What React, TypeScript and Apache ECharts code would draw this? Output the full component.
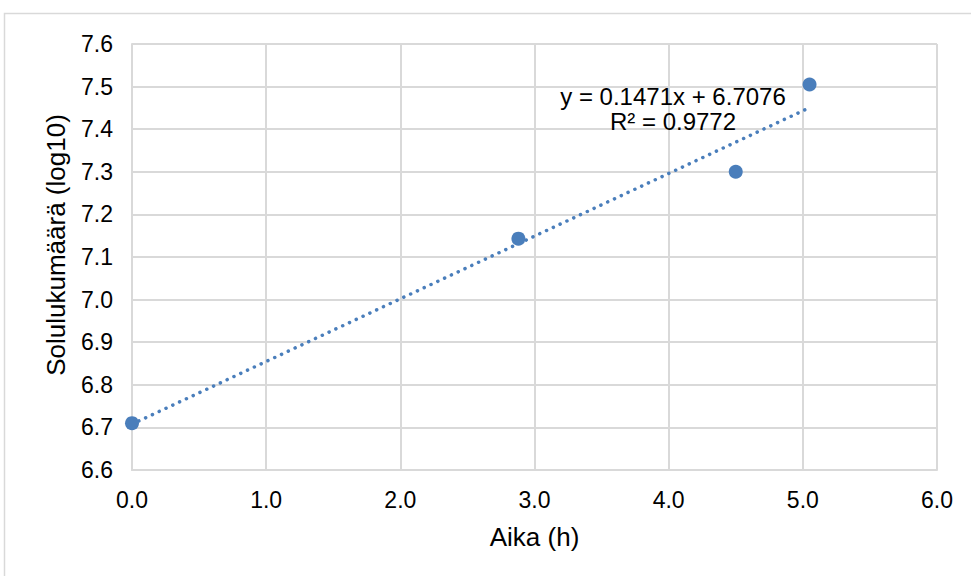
import React, { useEffect, useRef } from "react";
import * as echarts from "echarts";

// Data
const timeHours = [0, 2.88, 4.5, 5.05];
const logCount = [6.71, 7.143, 7.3, 7.505];
const trendX = [0, 5.05];
const trendY = [6.7076, 7.4505];
const equationLines = ["y = 0.1471x + 6.7076", "R² = 0.9772"];
const xTitle = "Aika (h)";
const yTitle = "Solulukumäärä (log10)";

const FONT = "'Liberation Sans', Arial, sans-serif";
const BLUE = "#4a7ebb";
const GRID = "#d9d9d9";

export default function App() {
  const ref = useRef<HTMLDivElement>(null);
  useEffect(() => {
    document.body.style.margin = "0";
    const chart = echarts.init(ref.current!, undefined, { renderer: "svg" });
    chart.setOption({
      animation: false,
      backgroundColor: "#ffffff",
      grid: { left: 132, right: 34, top: 44, bottom: 106 },
      xAxis: {
        type: "value",
        min: 0,
        max: 6,
        interval: 1,
        axisLine: { show: true, lineStyle: { color: GRID, width: 2 } },
        axisTick: { show: false },
        splitLine: { show: true, lineStyle: { color: GRID, width: 2 } },
        axisLabel: {
          color: "#000",
          fontFamily: FONT,
          fontSize: 23,
          margin: 18,
          formatter: (v: number) => v.toFixed(1),
        },
        name: xTitle,
        nameLocation: "middle",
        nameGap: 54,
        nameTextStyle: { color: "#000", fontFamily: FONT, fontSize: 26 },
      },
      yAxis: {
        type: "value",
        min: 6.6,
        max: 7.6,
        interval: 0.1,
        axisLine: { show: true, lineStyle: { color: GRID, width: 2 } },
        axisTick: { show: false },
        splitLine: { show: true, lineStyle: { color: GRID, width: 2 } },
        axisLabel: {
          color: "#000",
          fontFamily: FONT,
          fontSize: 23,
          margin: 19,
          formatter: (v: number) => v.toFixed(1),
        },
      },
      graphic: [
        {
          type: "rect",
          z: -10,
          shape: { x: 4.5, y: 13.5, width: 1000, height: 1000 },
          style: { fill: "none", stroke: GRID, lineWidth: 1.5 },
        },
        {
          type: "text",
          x: 56,
          y: 245,
          rotation: Math.PI / 2,
          style: {
            text: yTitle,
            fill: "#000",
            font: `26px ${FONT}`,
            align: "center",
            verticalAlign: "middle",
          },
        },
        {
          type: "text",
          x: 673,
          y: 109,
          z: 100,
          style: {
            text: equationLines.join("\n"),
            fill: "#000",
            font: `24px ${FONT}`,
            lineHeight: 25,
            align: "center",
            verticalAlign: "middle",
          },
        },
      ],
      series: [
        {
          type: "line",
          data: trendX.map((x, i) => [x, trendY[i]]),
          symbol: "none",
          z: 1,
          lineStyle: { color: BLUE, width: 3.5, type: [0.1, 7.4], cap: "round" },
        },
        {
          type: "scatter",
          data: timeHours.map((x, i) => [x, logCount[i]]),
          symbolSize: 14,
          z: 2,
          itemStyle: { color: BLUE, opacity: 1 },
        },
      ],
    });
    return () => chart.dispose();
  }, []);
  return <div ref={ref} style={{ width: 971, height: 576 }} />;
}
